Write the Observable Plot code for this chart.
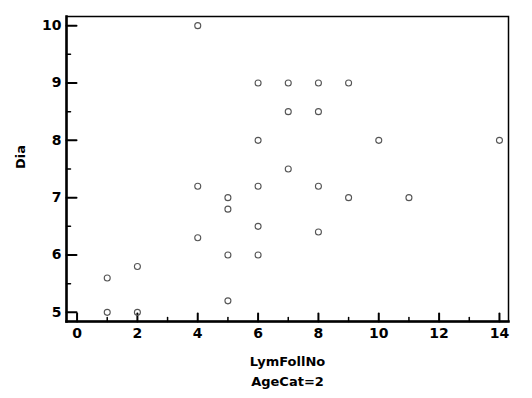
<!DOCTYPE html>
<html>
<head>
<meta charset="utf-8">
<script src="https://cdn.jsdelivr.net/npm/d3@7"></script>
<script src="https://cdn.jsdelivr.net/npm/@observablehq/plot@0.6"></script>
<style>
  html, body { margin: 0; padding: 0; background: #fff; }
  svg { display: block; }
</style>
</head>
<body>
<div id="chart"></div>
<script>
const lymFollNo = [1, 1, 2, 2, 4, 4, 4, 5, 5, 5, 5, 6, 6, 6, 6, 6, 7, 7, 7, 8, 8, 8, 8, 9, 9, 10, 11, 14];
const dia       = [5, 5.6, 5, 5.8, 10, 7.2, 6.3, 7, 6.8, 6, 5.2, 9, 8, 7.2, 6.5, 6, 9, 8.5, 7.5, 9, 8.5, 7.2, 6.4, 9, 7, 8, 7, 8];
const xMajor = [0, 2, 4, 6, 8, 10, 12, 14];
const xMinor = [1, 3, 5, 7, 9, 11, 13];
const yMajor = [5, 6, 7, 8, 9, 10];
const yMinor = [5.5, 6.5, 7.5, 8.5, 9.5];
const xTitle = "LymFollNo\nAgeCat=2";
const yTitle = "Dia";

const data = lymFollNo.map((x, i) => ({x, y: dia[i]}));
const line = {draw(c, l) { c.moveTo(0, 0); c.lineTo(0, -l); }};

const chart = Plot.plot({
  width: 532,
  height: 398,
  marginLeft: 66,
  marginRight: 24,
  marginTop: 16,
  marginBottom: 77,
  style: {fontFamily: "DejaVu Sans", fontSize: "13px", fontWeight: "bold", color: "#000", background: "#fff"},
  x: {domain: [-0.35, 14.3]},
  y: {domain: [4.84, 10.16]},
  marks: [
    Plot.frame({stroke: "#000", strokeWidth: 1.5}),
    Plot.frame({anchor: "left", stroke: "#000", strokeWidth: 2.5}),
    Plot.frame({anchor: "bottom", stroke: "#000", strokeWidth: 2.5}),
    Plot.vectorX(xMajor, {x: d => d, frameAnchor: "bottom", anchor: "start", length: 8, shape: line, stroke: "#000", strokeWidth: 2}),
    Plot.vectorX(xMinor, {x: d => d, frameAnchor: "bottom", anchor: "start", length: 4, shape: line, stroke: "#000", strokeWidth: 1.5}),
    Plot.vectorY(yMajor, {y: d => d, frameAnchor: "left", anchor: "start", rotate: 90, length: 10, shape: line, stroke: "#000", strokeWidth: 2}),
    Plot.vectorY(yMinor, {y: d => d, frameAnchor: "left", anchor: "start", rotate: 90, length: 4, shape: line, stroke: "#000", strokeWidth: 1.5}),
    Plot.axisX(xMajor, {tickSize: 0, tickPadding: 7, label: null, tickFormat: d3.format("d"), fontWeight: "bold", fontSize: 14}),
    Plot.axisY(yMajor, {tickSize: 0, tickPadding: 5, label: null, tickFormat: d3.format("d"), fontWeight: "bold", fontSize: 14}),
    Plot.text([xTitle], {frameAnchor: "bottom", dy: 30, lineAnchor: "top", lineHeight: 1.55, fontWeight: "bold", fill: "#000"}),
    Plot.text([yTitle], {frameAnchor: "left", dx: -46, rotate: -90, fontWeight: "bold", fill: "#000"}),
    Plot.dot(data, {x: "x", y: "y", r: 3, stroke: "#555", strokeWidth: 1.1, fill: "none"})
  ]
});
document.getElementById("chart").appendChild(chart);
</script>
</body>
</html>
